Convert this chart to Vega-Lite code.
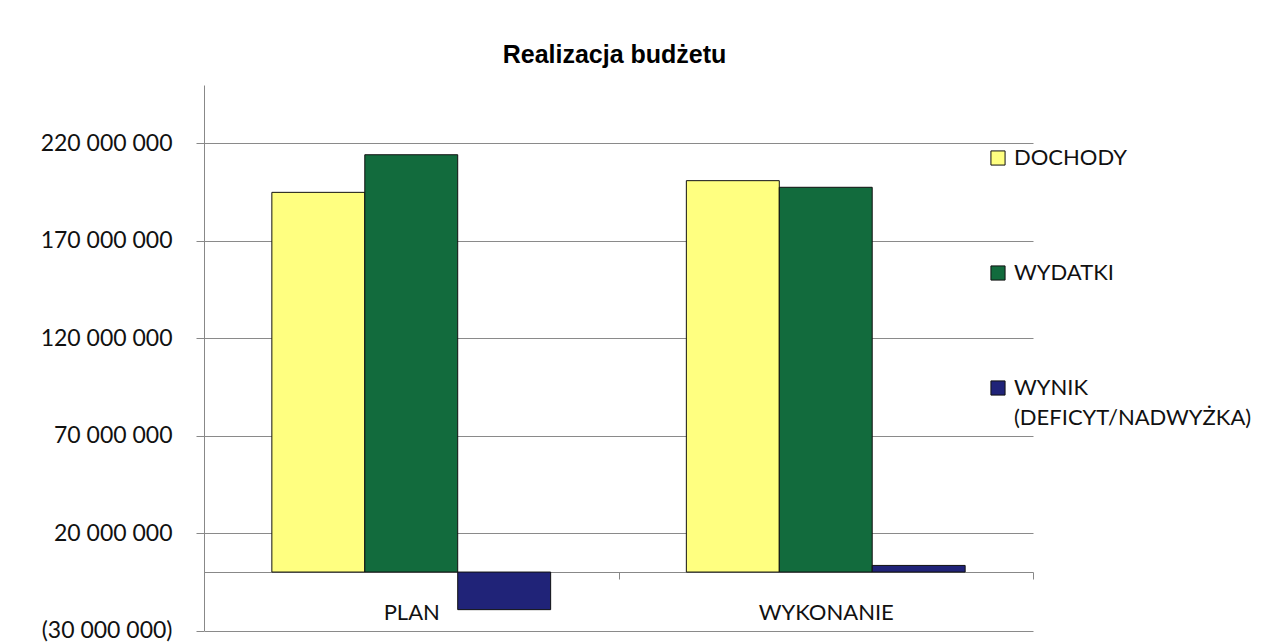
{
  "$schema": "https://vega.github.io/schema/vega-lite/v6.json",
  "autosize": {"type": "none"},
  "width": 829,
  "height": 545.5,
  "padding": {"left": 204, "top": 85, "right": 231, "bottom": 13.5},
  "background": "white",
  "title": {
    "text": "Realizacja budżetu",
    "font": "Liberation Sans",
    "fontSize": 25,
    "fontWeight": "bold",
    "color": "#000000",
    "anchor": "middle",
    "offset": 17,
    "dx": -4
  },
  "data": {
    "values": [
      {"kategoria": "PLAN", "seria": "DOCHODY", "wartosc": 194900000},
      {"kategoria": "PLAN", "seria": "WYDATKI", "wartosc": 214200000},
      {"kategoria": "PLAN", "seria": "WYNIK (DEFICYT/NADWYŻKA)", "wartosc": -19300000},
      {"kategoria": "WYKONANIE", "seria": "DOCHODY", "wartosc": 200900000},
      {"kategoria": "WYKONANIE", "seria": "WYDATKI", "wartosc": 197500000},
      {"kategoria": "WYKONANIE", "seria": "WYNIK (DEFICYT/NADWYŻKA)", "wartosc": 3400000}
    ]
  },
  "mark": {"type": "bar", "stroke": "#111111", "strokeWidth": 1},
  "encoding": {
    "x": {
      "field": "kategoria",
      "type": "nominal",
      "sort": ["PLAN", "WYKONANIE"],
      "scale": {"paddingInner": 0, "paddingOuter": 0},
      "axis": {
        "title": null,
        "labelAngle": 0,
        "offset": -58.5,
        "tickBand": "extent",
        "tickSize": 7,
        "tickColor": "#888888",
        "domainColor": "#888888",
        "labelPadding": 23,
        "labelFont": "Lato",
        "labelFontSize": 22,
        "labelColor": "#111111",
        "grid": false
      }
    },
    "xOffset": {
      "field": "seria",
      "type": "nominal",
      "sort": ["DOCHODY", "WYDATKI", "WYNIK (DEFICYT/NADWYŻKA)"],
      "scale": {"paddingInner": 0, "paddingOuter": 0.73}
    },
    "y": {
      "field": "wartosc",
      "type": "quantitative",
      "scale": {"domain": [-30000000, 250000000], "nice": false, "zero": false},
      "axis": {
        "title": null,
        "values": [-30000000, 20000000, 70000000, 120000000, 170000000, 220000000],
        "labelExpr": "datum.value < 0 ? '(' + replace(format(abs(datum.value), ',d'), regexp(',', 'g'), ' ') + ')' : replace(format(datum.value, ',d'), regexp(',', 'g'), ' ')",
        "grid": true,
        "gridColor": "#8a8a8a",
        "gridWidth": 1,
        "domainColor": "#888888",
        "tickColor": "#888888",
        "tickSize": 8,
        "labelPadding": 24,
        "labelFont": "Lato",
        "labelFontSize": 23,
        "labelColor": "#111111"
      }
    },
    "color": {
      "field": "seria",
      "type": "nominal",
      "sort": ["DOCHODY", "WYDATKI", "WYNIK (DEFICYT/NADWYŻKA)"],
      "scale": {
        "domain": ["DOCHODY", "WYDATKI", "WYNIK (DEFICYT/NADWYŻKA)"],
        "range": ["#FFFF80", "#126B3D", "#202378"]
      },
      "legend": {
        "title": null,
        "orient": "none",
        "legendX": 783,
        "legendY": 62,
        "symbolType": "square",
        "symbolSize": 200,
        "symbolStrokeColor": "#111111",
        "symbolStrokeWidth": 1,
        "labelOffset": 5,
        "labelFont": "Lato",
        "labelFontSize": 22,
        "labelColor": "#111111",
        "labelBaseline": "top",
        "labelLimit": 400,
        "rowPadding": 93,
        "labelExpr": "datum.label == 'WYNIK (DEFICYT/NADWYŻKA)' ? ['WYNIK', '(DEFICYT/NADWYŻKA)'] : datum.label",
        "encode": {
          "labels": {"update": {"dy": {"value": -10}}}
        }
      }
    }
  },
  "config": {
    "view": {"stroke": null},
    "style": {"guide-label": {"lineHeight": 30}}
  }
}
